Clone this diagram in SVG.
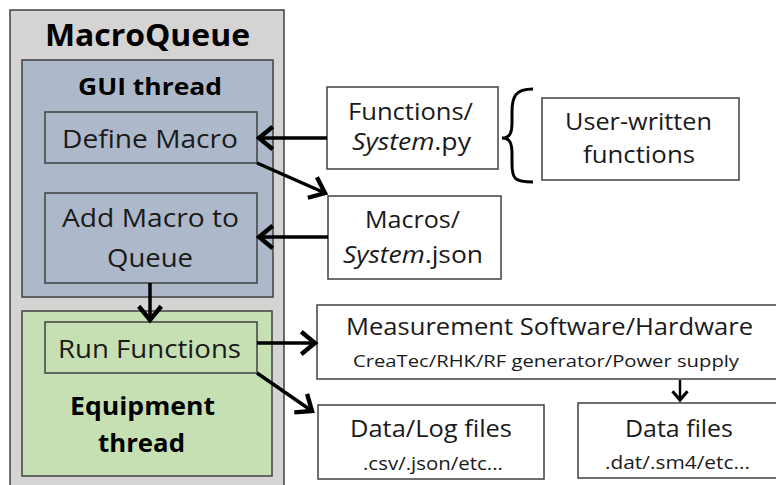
<svg xmlns="http://www.w3.org/2000/svg" width="776" height="485" viewBox="0 0 776 485">
<defs>
<style>
.box{stroke:#404040;stroke-width:1.5}
.w{fill:#fff}
.t{font-family:"Open Sans","Liberation Sans",sans-serif;fill:#1a1a1a;text-anchor:middle}
.b{font-weight:bold;fill:#000}
.c{stroke:#000;stroke-width:3.5;fill:none}
</style>
<marker id="ah" markerUnits="userSpaceOnUse" markerWidth="30" markerHeight="30" viewBox="-16 -12 20 24" refX="0" refY="0" orient="auto">
<path d="M-11,-9 L0,0 L-11,9" fill="none" stroke="#000" stroke-width="3.5" stroke-linejoin="miter"/>
</marker>
<marker id="ahs" markerUnits="userSpaceOnUse" markerWidth="20" markerHeight="20" viewBox="-10 -8 12 16" refX="0" refY="0" orient="auto">
<path d="M-7,-6 L0,0 L-7,6" fill="none" stroke="#000" stroke-width="2.5"/>
</marker>
</defs>
<rect width="776" height="485" fill="#fff"/>
<g id="macroqueue">
<rect class="box" x="10" y="10" width="274" height="490" fill="#d6d3d3"/>
<text class="t b" x="147.5" y="46" font-size="30" textLength="205" lengthAdjust="spacingAndGlyphs">MacroQueue</text>
</g>
<g id="gui-thread">
<rect class="box" x="22" y="60" width="251" height="237" fill="#adb9ca"/>
<text class="t b" x="150" y="95" font-size="24" textLength="144" lengthAdjust="spacingAndGlyphs">GUI thread</text>
</g>
<g id="define-macro">
<rect class="box" x="45" y="112" width="212" height="51" fill="#adb9ca"/>
<text class="t" x="150" y="148" font-size="25" textLength="176" lengthAdjust="spacingAndGlyphs">Define Macro</text>
</g>
<g id="add-macro">
<rect class="box" x="45" y="193" width="212" height="90" fill="#adb9ca"/>
<text class="t" x="150.5" y="227" font-size="25" textLength="177" lengthAdjust="spacingAndGlyphs">Add Macro to</text>
<text class="t" x="150" y="267" font-size="25" textLength="86" lengthAdjust="spacingAndGlyphs">Queue</text>
</g>
<g id="equipment-thread">
<rect class="box" x="22" y="311" width="250" height="165" fill="#c6e0b4"/>
<text class="t b" x="142.5" y="415" font-size="25" textLength="145" lengthAdjust="spacingAndGlyphs">Equipment</text>
<text class="t b" x="141.5" y="452" font-size="25" textLength="87" lengthAdjust="spacingAndGlyphs">thread</text>
</g>
<g id="run-functions">
<rect class="box" x="45" y="322" width="212" height="51" fill="#c6e0b4"/>
<text class="t" x="149.5" y="358" font-size="25" textLength="183" lengthAdjust="spacingAndGlyphs">Run Functions</text>
</g>
<g id="functions-py">
<rect class="box w" x="327" y="87" width="171" height="82"/>
<text class="t" x="410.5" y="120" font-size="24" textLength="125" lengthAdjust="spacingAndGlyphs">Functions/</text>
<text class="t" x="411.5" y="150" font-size="24" textLength="119" lengthAdjust="spacingAndGlyphs"><tspan font-style="italic">System</tspan>.py</text>
</g>
<g id="user-functions">
<rect class="box w" x="542" y="98" width="197" height="82"/>
<text class="t" x="638.5" y="130" font-size="24" textLength="147" lengthAdjust="spacingAndGlyphs">User-written</text>
<text class="t" x="639" y="163" font-size="24" textLength="112" lengthAdjust="spacingAndGlyphs">functions</text>
</g>
<g id="macros-json">
<rect class="box w" x="328" y="196" width="173" height="83"/>
<text class="t" x="412.5" y="228" font-size="24" textLength="95" lengthAdjust="spacingAndGlyphs">Macros/</text>
<text class="t" x="413" y="263" font-size="24" textLength="140" lengthAdjust="spacingAndGlyphs"><tspan font-style="italic">System</tspan>.json</text>
</g>
<g id="measurement">
<rect class="box w" x="317" y="305" width="460" height="74"/>
<text class="t" x="549.5" y="335" font-size="23" textLength="407" lengthAdjust="spacingAndGlyphs">Measurement Software/Hardware</text>
<text class="t" x="546" y="367" font-size="17" textLength="386" lengthAdjust="spacingAndGlyphs">CreaTec/RHK/RF generator/Power supply</text>
</g>
<g id="data-log">
<rect class="box w" x="318" y="405" width="226" height="74"/>
<text class="t" x="431" y="437" font-size="24" textLength="162" lengthAdjust="spacingAndGlyphs">Data/Log files</text>
<text class="t" x="433" y="470" font-size="19" textLength="140" lengthAdjust="spacingAndGlyphs">.csv/.json/etc...</text>
</g>
<g id="data-files">
<rect class="box w" x="578" y="403" width="200" height="75"/>
<text class="t" x="679" y="437" font-size="24" textLength="108" lengthAdjust="spacingAndGlyphs">Data files</text>
<text class="t" x="677.5" y="469" font-size="19" textLength="145" lengthAdjust="spacingAndGlyphs">.dat/.sm4/etc...</text>
</g>
<g id="connectors">
<path class="c" d="M327,138 L259,138" marker-end="url(#ah)"/>
<path class="c" d="M257,163 L325,193" marker-end="url(#ah)"/>
<path class="c" d="M328,237 L259,237" marker-end="url(#ah)"/>
<path class="c" d="M150,283 L150,320" marker-end="url(#ah)"/>
<path class="c" d="M257,343 L315,343" marker-end="url(#ah)"/>
<path class="c" d="M257,373 L312,411" marker-end="url(#ah)"/>
<path d="M680,380 L680,400" stroke="#000" stroke-width="2.5" fill="none" marker-end="url(#ahs)"/>
<path d="M533,89 C515,89 512,97 512,112 L512,122 C512,133 510,138 502,138 C510,138 512,143 512,154 L512,164 C512,179 515,182 533,182" stroke="#000" stroke-width="3" fill="none"/>
</g>
</svg>
